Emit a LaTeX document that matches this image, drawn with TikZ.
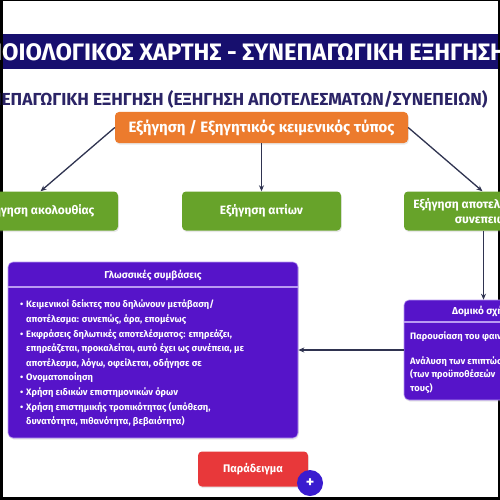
\documentclass[tikz,border=0pt]{standalone}
\usepackage{fontspec}
\setmainfont{Fira Sans}
\usetikzlibrary{
    arrows.meta,
    positioning,
    calc,
    shadows
}

\definecolor{mapnavy}{HTML}{170F6E}
\definecolor{subnavy}{HTML}{2B2466}
\definecolor{maporange}{HTML}{EC7B2D}
\definecolor{mapgreen}{HTML}{67A32A}
\definecolor{mappurple}{HTML}{5614C9}
\definecolor{maplilac}{HTML}{B99AF2}
\definecolor{mapred}{HTML}{E8383A}
\definecolor{mapblue}{HTML}{3A1CCF}
\definecolor{mapline}{HTML}{2F3350}

\begin{document}
\begin{tikzpicture}[
    x=1pt,
    y=-1pt,
    every node/.style={
        font=\fontsize{10pt}{12pt}\selectfont
    },
    softshadow/.style={
        drop shadow={
            opacity=0.18,
            shadow xshift=0.8pt,
            shadow yshift=-1.5pt
        }
    },
    greenbox/.style={
        softshadow,
        fill=mapgreen,
        text=white,
        rounded corners=4pt,
        minimum width=159pt,
        minimum height=39pt,
        align=center,
        font=\fontsize{12pt}{14.5pt}\selectfont\bfseries
    },
    purplebox/.style={
        softshadow,
        fill=mappurple,
        draw=maplilac,
        line width=0.6pt,
        rounded corners=5pt
    },
    headtext/.style={
        text=white,
        font=\fontsize{10pt}{12pt}\selectfont\bfseries
    },
    bodytext/.style={
        text=white,
        align=left,
        inner sep=0pt,
        anchor=north west
    },
    sepline/.style={
        maplilac,
        line width=1.6pt
    },
    maparrow/.style={
        -{Stealth[length=6pt, width=5pt]},
        mapline,
        line width=1.3pt
    }
]

    % Canvas and frame
    \useasboundingbox (0,0) rectangle (500,500);
    \clip (0,0) rectangle (500,500);
    \fill[black] (0,0) rectangle (500,500);
    \fill[white] (2.5,1.5) rectangle (497.5,497);

    % Title bar
    \fill[mapnavy] (2.5,34) rectangle (498,69);
    \node[
        text=white,
        font=\fontsize{23.8pt}{26pt}\selectfont\bfseries
    ] (title) at (232,52)
        {ΕΝΝΟΙΟΛΟΓΙΚΟΣ ΧΑΡΤΗΣ - ΣΥΝΕΠΑΓΩΓΙΚΗ ΕΞΗΓΗΣΗ};

    \node[
        text=subnavy,
        font=\fontsize{17.4pt}{19pt}\selectfont\bfseries,
        anchor=east
    ] (subtitle) at (491,99)
        {ΣΥΝΕΠΑΓΩΓΙΚΗ ΕΞΗΓΗΣΗ (ΕΞΗΓΗΣΗ ΑΠΟΤΕΛΕΣΜΑΤΩΝ/ΣΥΝΕΠΕΙΩΝ)};

    % Root node
    \node[
        softshadow,
        fill=maporange,
        text=white,
        rounded corners=4pt,
        minimum width=293pt,
        minimum height=31pt,
        font=\fontsize{15pt}{17pt}\selectfont\bfseries
    ] (expl) at (261.5,127.5)
        {Εξήγηση / Εξηγητικός κειμενικός τύπος};

    % Kinds of explanation
    \node[greenbox] (seq) at (38.5,211)
        {Εξήγηση ακολουθίας};
    \node[greenbox] (causes) at (261.5,211)
        {Εξήγηση αιτίων};
    \node[greenbox] (effects) at (483.5,211)
        {Εξήγηση αποτελεσμάτων/\\συνεπειών};

    % Language conventions
    \node[
        purplebox,
        minimum width=290pt,
        minimum height=176pt
    ] (conv) at (153,350) {};
    \node[headtext] (convhead) at ($(conv.north)+(0,14)$)
        {Γλωσσικές συμβάσεις};
    \draw[sepline]
        ($(conv.north west)+(0.5,25)$)
        -- ($(conv.north east)+(-0.5,25)$);
    \node[
        bodytext,
        font=\fontsize{9.3pt}{14.6pt}\selectfont\bfseries
    ] (convbody) at (20,300)
        {\makebox[6pt][l]{•}Κειμενικοί δείκτες που δηλώνουν μετάβαση/\\
         \hspace*{6pt}αποτέλεσμα: συνεπώς, άρα, επομένως\\
         \makebox[6pt][l]{•}Εκφράσεις δηλωτικές αποτελέσματος: επηρεάζει,\\
         \hspace*{6pt}επηρεάζεται, προκαλείται, αυτό έχει ως συνέπεια, με\\
         \hspace*{6pt}αποτέλεσμα, λόγω, οφείλεται, οδήγησε σε\\
         \makebox[6pt][l]{•}Ονοματοποίηση\\
         \makebox[6pt][l]{•}Χρήση ειδικών επιστημονικών όρων\\
         \makebox[6pt][l]{•}Χρήση επιστημικής τροπικότητας (υπόθεση,\\
         \hspace*{6pt}δυνατότητα, πιθανότητα, βεβαιότητα)};

    % Structural pattern
    \node[
        purplebox,
        minimum width=159pt,
        minimum height=100pt
    ] (struct) at (483.5,350) {};
    \node[headtext] (structhead) at ($(struct.north)+(0,12)$)
        {Δομικό σχήμα};
    \draw[sepline]
        ($(struct.north west)+(0.5,22)$)
        -- ($(struct.north east)+(-0.5,22)$);
    \node[
        bodytext,
        font=\fontsize{9.3pt}{13.5pt}\selectfont\bfseries
    ] (structbody) at (410,332)
        {Παρουσίαση του φαινομένου\\[11pt]
         Ανάλυση των επιπτώσεων\\
         (των προϋποθέσεών\\
         τους)};

    % Example button
    \node[
        softshadow,
        fill=mapred,
        text=white,
        rounded corners=4pt,
        minimum width=110pt,
        minimum height=35pt,
        font=\fontsize{11pt}{14pt}\selectfont\bfseries
    ] (example) at (253,469)
        {Παράδειγμα};
    \node[
        circle,
        fill=mapblue,
        text=white,
        minimum size=26pt,
        inner sep=0pt,
        font=\fontsize{16pt}{16pt}\selectfont\bfseries
    ] (plus) at (310,483)
        {+};

    % Connectors
    \draw[maparrow] (expl.west) -- ([xshift=2pt]seq.north);
    \draw[maparrow] (expl.south) -- (causes.north);
    \draw[maparrow] (expl.east) -- ([xshift=-1pt]effects.north);
    \draw[maparrow] (effects.south) -- (struct.north);
    \draw[maparrow] (struct.west) -- (conv.east);

\end{tikzpicture}
\end{document}
